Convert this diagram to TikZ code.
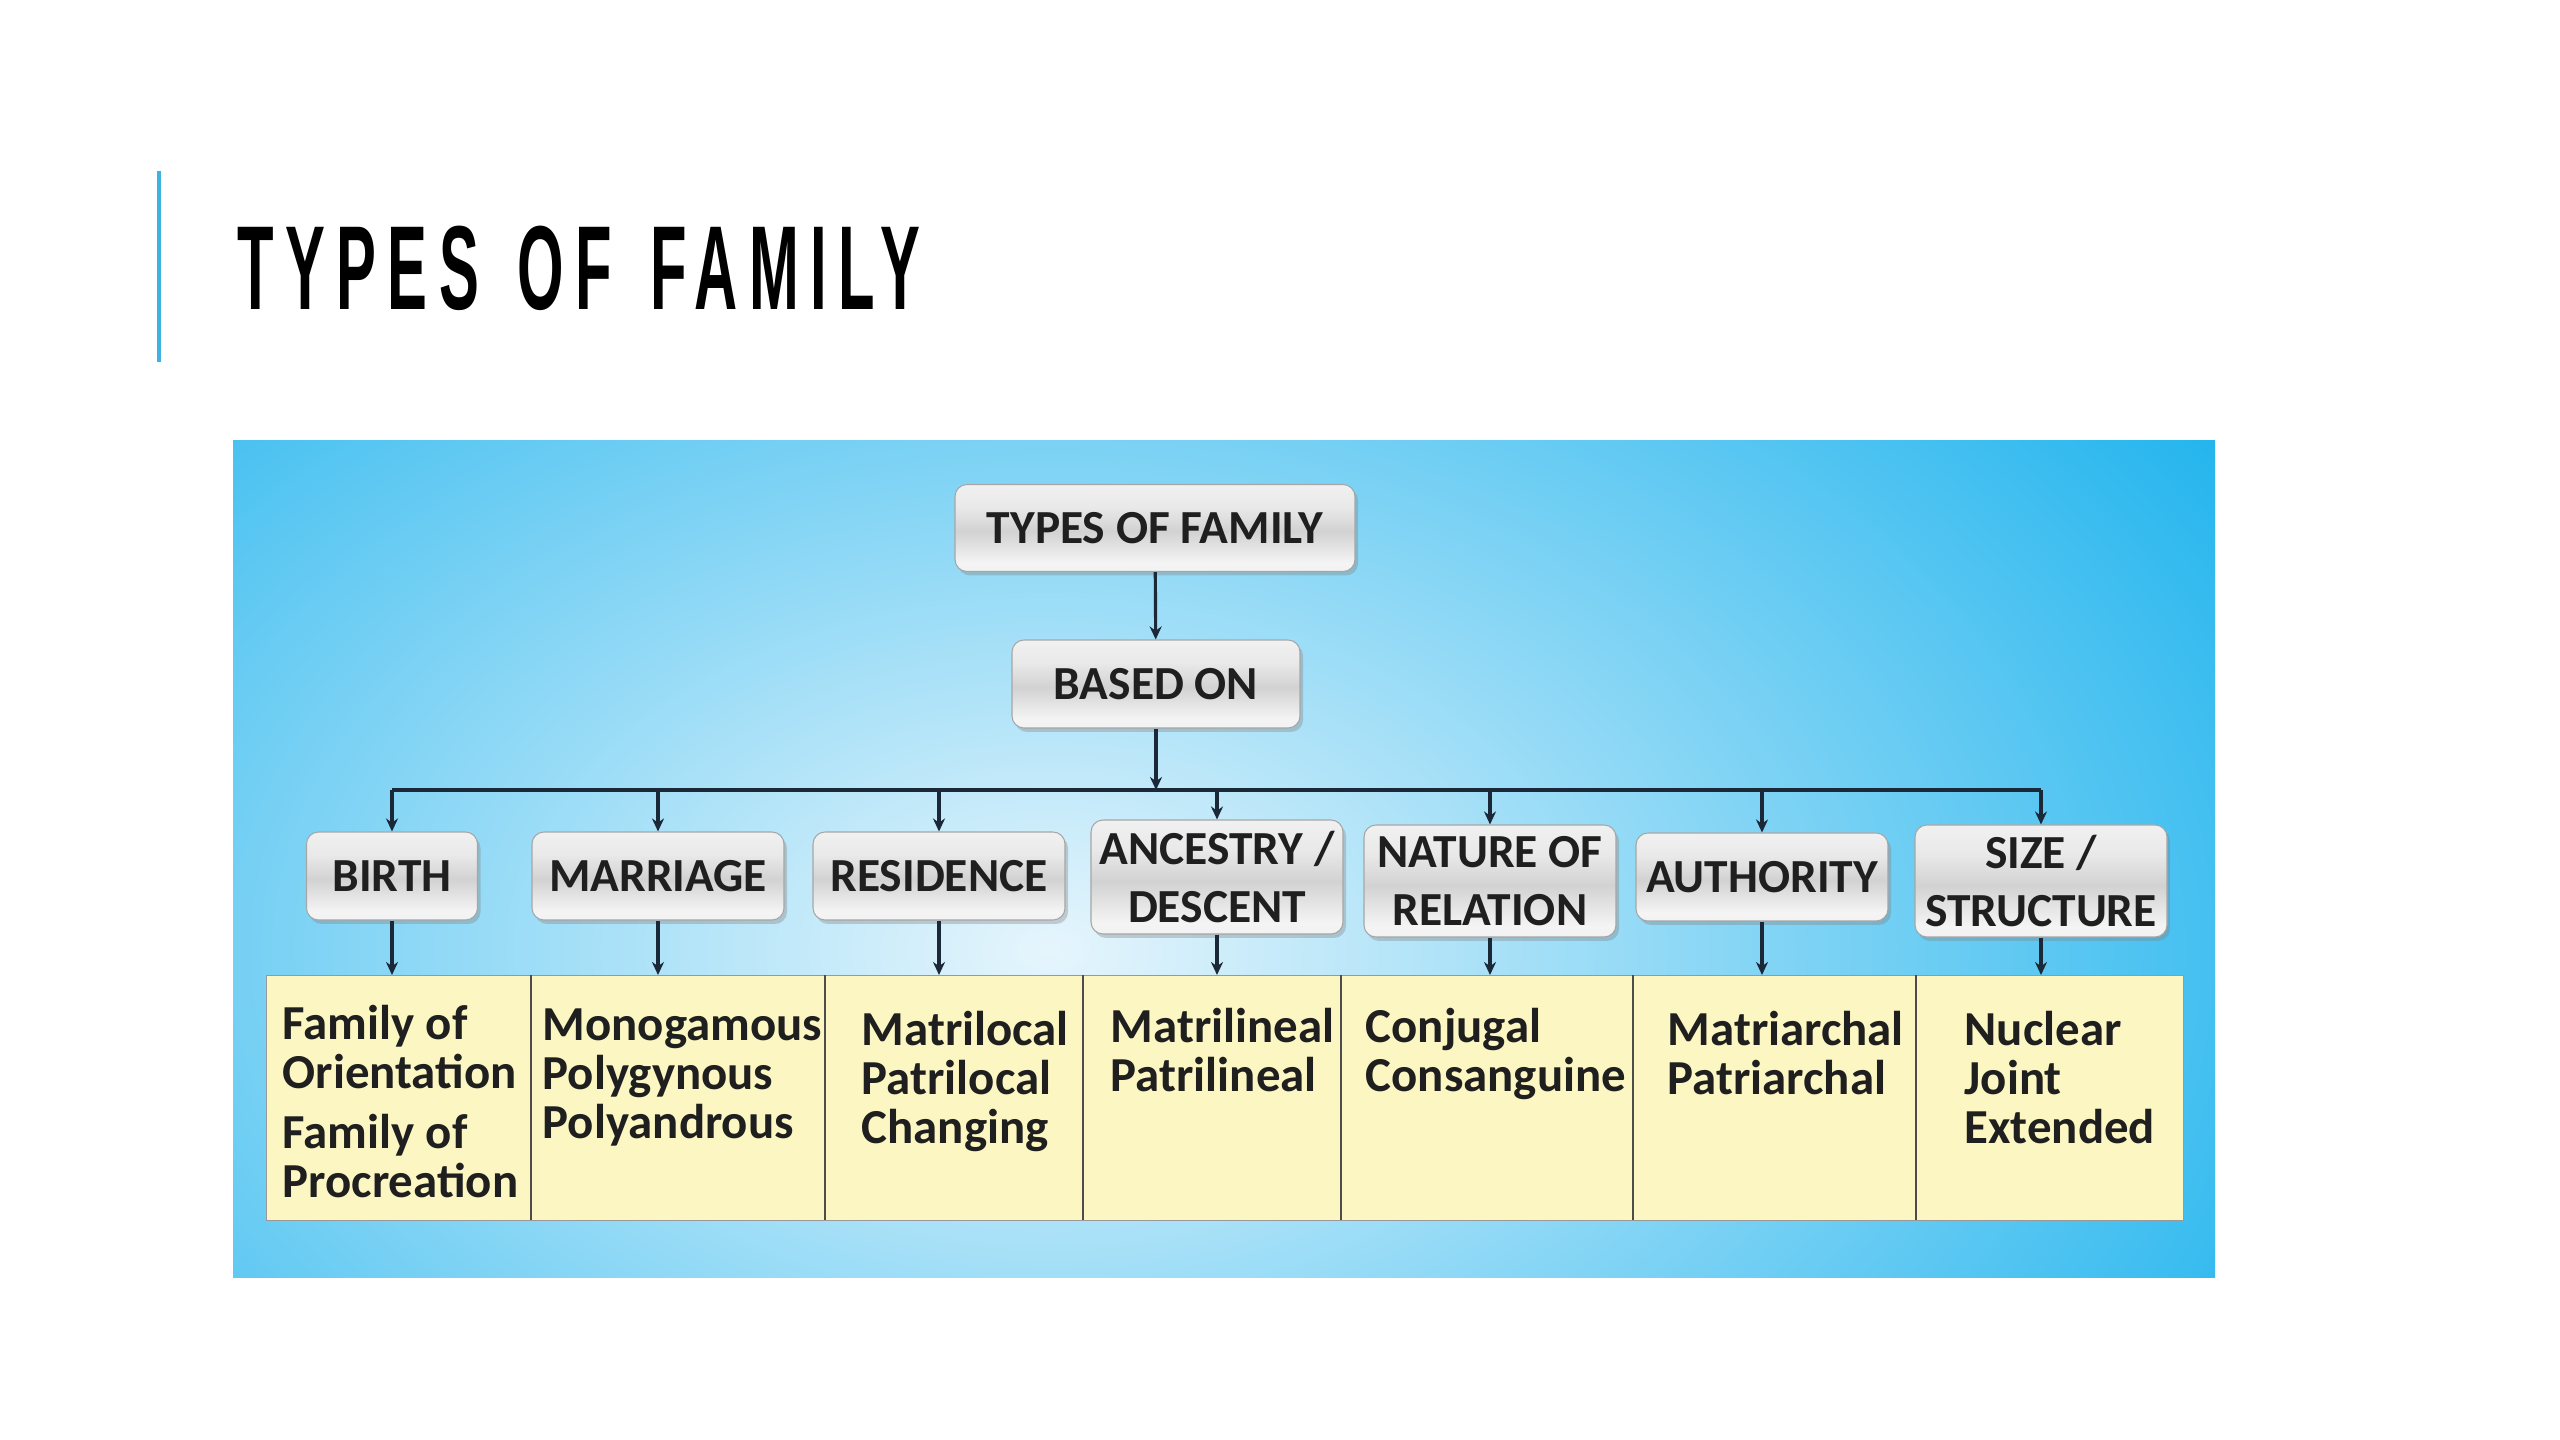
\documentclass[tikz,border=0pt]{standalone}
\usepackage{fontspec}
\usepackage{graphicx}
\usetikzlibrary{positioning, arrows.meta, shadows}

\newfontfamily\boxfont{Carlito}
\newfontfamily\headfont{Liberation Sans}[LetterSpace=19]

\definecolor{skyout}{HTML}{08ACEC}
\definecolor{skyin}{HTML}{E6F5FC}
\definecolor{barblue}{HTML}{3DB3E3}
\definecolor{arrowdark}{HTML}{1B2838}
\definecolor{paleyellow}{HTML}{FBF6C2}
\definecolor{glossA}{HTML}{F4F4F4}
\definecolor{glossB}{HTML}{D2D2D2}
\definecolor{glossC}{HTML}{E9E9E9}
\pgfdeclareverticalshading{glossy}{100bp}{color(0bp)=(glossC); color(30bp)=(glossA); color(48bp)=(glossB); color(62bp)=(glossC); color(100bp)=(white)}

\begin{document}
\begin{tikzpicture}[x=0.1mm, y=-0.1mm,
    catbox/.style={rounded corners=1.2mm, draw=gray!70, line width=0.3pt, shading=glossy,
      drop shadow={shadow xshift=0.3mm, shadow yshift=-0.4mm, opacity=0.35},
      font=\boxfont\bfseries\fontsize{13.5}{16.5}\selectfont, text=black!88,
      align=center, inner sep=0pt},
    link/.style={draw=arrowdark, line width=0.9pt, -{Stealth[length=1.3mm, width=1.2mm]}},
    tablebox/.style={fill=paleyellow, draw=gray!80, line width=0.4pt, inner sep=0pt},
    cell/.style={font=\boxfont\bfseries\fontsize{13.9}{13.9}\selectfont, text=black!88,
      align=left, inner sep=0pt, anchor=north west}]
    \useasboundingbox (0,0) rectangle (2560,1440);
    \fill[white] (0,0) rectangle (2560,1440);

    % Slide heading
    \draw[barblue, line width=0.4mm] (159,171) -- (159,362);
    \node[anchor=base west, inner sep=0pt] (heading) at (237,310)
      {\scalebox{0.5}[1]{\headfont\bfseries\fontsize{34}{34}\selectfont TYPES\hspace{6pt} OF\hspace{6pt} FAMILY}};

    % Blue panel
    \fill[skyout] (233,441) rectangle (2215,1277);
    \begin{scope}
      \clip (233,441) rectangle (2215,1277);
      \shade[inner color=skyin, outer color=skyout] (1050,950) ellipse (1600 and 1050);
    \end{scope}

    % Top of the tree
    \node[catbox, minimum width=40mm, minimum height=8.7mm] (types) at (1155,528) {TYPES OF FAMILY};
    \node[catbox, minimum width=28.8mm, minimum height=8.8mm] (based) at (1156,684) {BASED ON};
    \draw[link] (types) -- (based);
    \coordinate (bus) at (1156,790);
    \draw[link] (based) -- (bus);

    % Categories
    \foreach \n/\x/\y/\w/\h/\t in {birth/392/876/17.1/8.8/BIRTH,
        marriage/658/876/25.2/8.8/MARRIAGE,
        residence/939/876/25.2/8.8/RESIDENCE,
        ancestry/1217/877/25.2/11.4/{ANCESTRY /\\DESCENT},
        nature/1490/881/25.2/11.2/{NATURE OF\\RELATION},
        authority/1762/877/25.2/8.8/AUTHORITY,
        size/2041/881/25.2/11.2/{SIZE /\\STRUCTURE}} {
      \node[catbox, minimum width=\w mm, minimum height=\h mm] (\n) at (\x,\y) {\t};
    }
    \draw[arrowdark, line width=0.9pt] (birth.north |- bus) -- (size.north |- bus);

    % Table of kinds
    \node[tablebox, anchor=north west, minimum width=191.7mm, minimum height=24.5mm] (tbl) at (266,975) {};
    \foreach \x in {531,825,1083,1341,1633,1916} {
      \draw[gray!60!black, line width=0.4pt] (\x,975) -- (\x,1220);
    }
    \foreach \n in {birth,marriage,residence,ancestry,nature,authority,size} {
      \draw[link] (\n.north |- bus) -- (\n.north);
      \draw[link] (\n.south) -- (\n.south |- tbl.north);
    }

    % Entries in each column
    \foreach \n/\x/\y/\t in {birthtxt/282/1005/{Family of\\Orientation\\[1.1mm]Family of\\Procreation},
        marriagetxt/542/1008/{Monogamous\\Polygynous\\Polyandrous},
        residencetxt/861/1011/{Matrilocal\\Patrilocal\\Changing},
        ancestrytxt/1110/1008/{Matrilineal\\Patrilineal},
        naturetxt/1365/1008/{Conjugal\\Consanguine},
        authoritytxt/1667/1011/{Matriarchal\\Patriarchal},
        sizetxt/1964/1011/{Nuclear\\Joint\\Extended}} {
      \node[cell] (\n) at (\x,\y) {\t};
    }
\end{tikzpicture}
\end{document}
